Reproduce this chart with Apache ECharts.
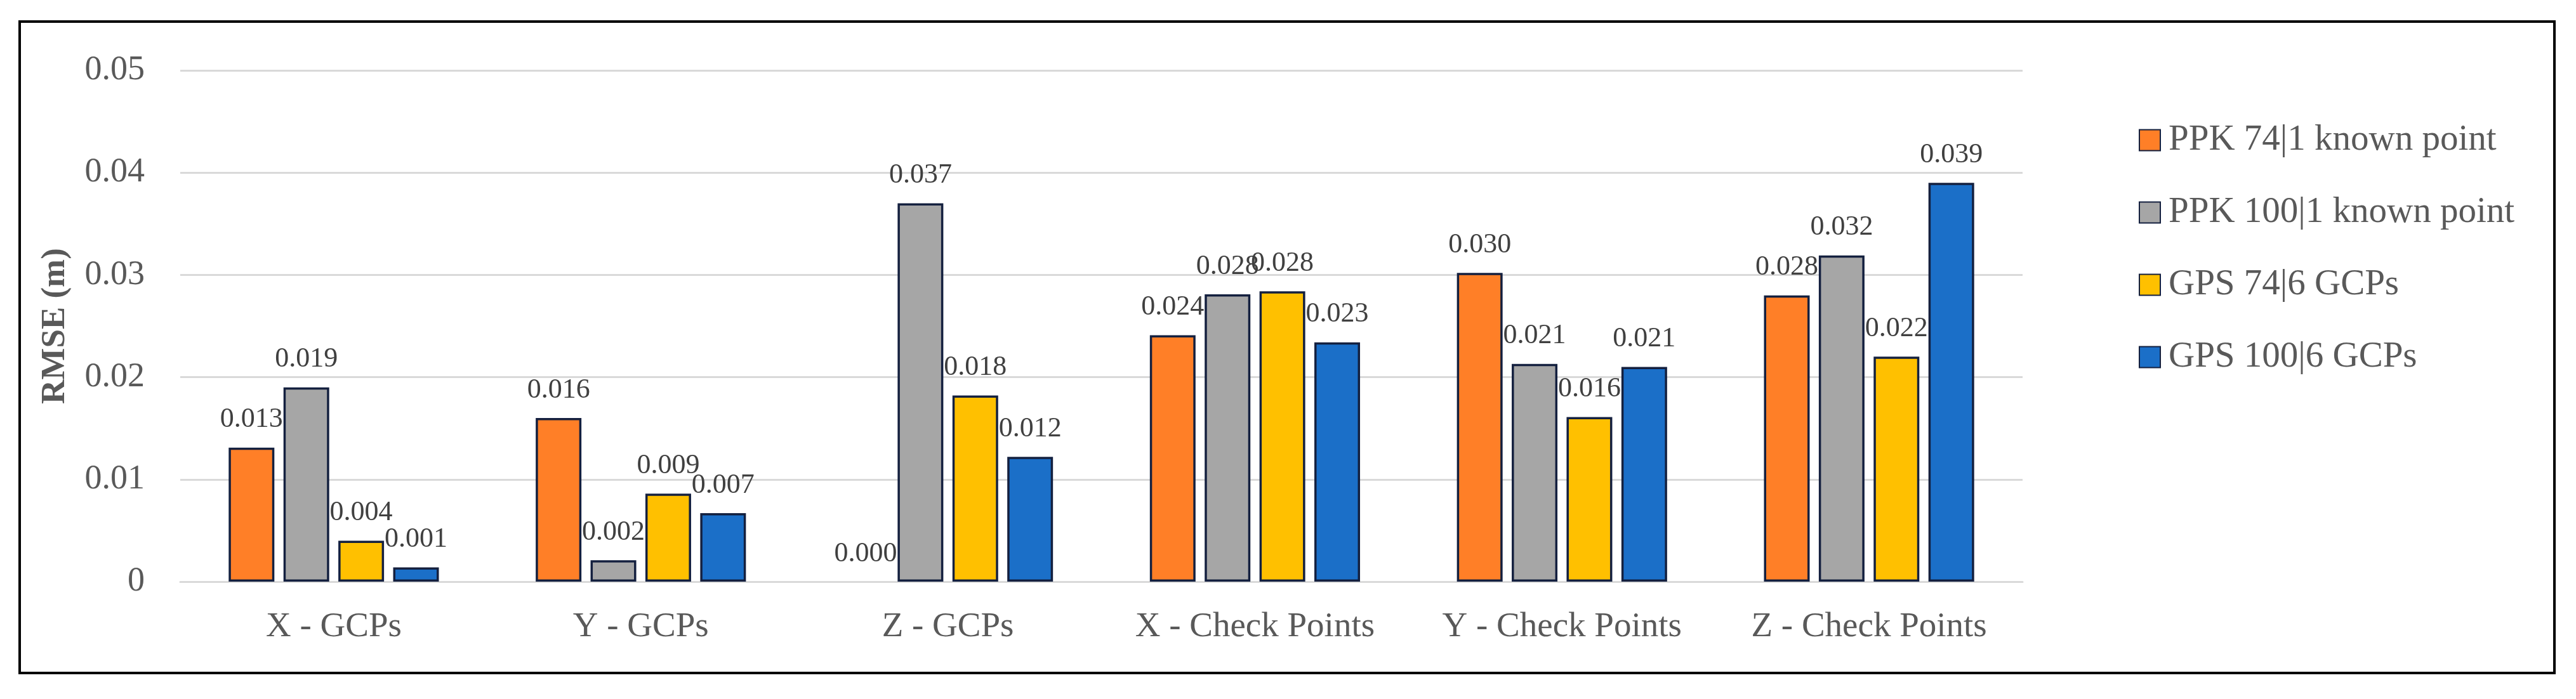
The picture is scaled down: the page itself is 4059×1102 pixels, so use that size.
<!DOCTYPE html>
<html>
<head>
<meta charset="utf-8">
<script src="https://cdn.jsdelivr.net/npm/echarts@6/dist/echarts.min.js"></script>
<style>
html,body{margin:0;padding:0;background:#fff;}
#chart{width:4059px;height:1102px;}
</style>
</head>
<body>
<div id="chart"></div>
<script>
const categories = ['X - GCPs', 'Y - GCPs', 'Z - GCPs', 'X - Check Points', 'Y - Check Points', 'Z - Check Points'];
const seriesNames = ['PPK 74|1 known point', 'PPK 100|1 known point', 'GPS 74|6 GCPs', 'GPS 100|6 GCPs'];
const ppk74 = [0.0131, 0.0160, 0.0000, 0.0241, 0.0302, 0.0280];
const ppk100 = [0.0190, 0.0021, 0.0370, 0.0281, 0.0213, 0.0319];
const gps74 = [0.0040, 0.0086, 0.0182, 0.0284, 0.0161, 0.0220];
const gps100 = [0.0014, 0.0067, 0.0122, 0.0234, 0.0210, 0.0390];
const yTicks = [0, 0.01, 0.02, 0.03, 0.04, 0.05];

const colors = ['#FF7F27', '#A6A6A6', '#FFC000', '#1B6FC8'];
const FONT = '"Liberation Serif", "Times New Roman", serif';
const allData = [ppk74, ppk100, gps74, gps100];

const chart = echarts.init(document.getElementById('chart'), null, {renderer: 'canvas'});
chart.setOption({
  backgroundColor: '#ffffff',
  animation: false,
  textStyle: {fontFamily: FONT},
  graphic: [{
    type: 'rect',
    shape: {x: 31, y: 34, width: 3994, height: 1027},
    style: {fill: 'none', stroke: '#000000', lineWidth: 4},
    z: 100
  }],
  grid: {left: 284, right: 872, top: 111, bottom: 185, containLabel: false},
  legend: {
    orient: 'vertical',
    left: 3365,
    top: 187,
    itemWidth: 33,
    itemHeight: 33,
    itemGap: 56,
    icon: 'rect',
    textStyle: {fontFamily: FONT, fontSize: 57, color: '#595959', lineHeight: 58, padding: [0, 0, 0, 8]},
    data: seriesNames
  },
  xAxis: {
    type: 'category',
    data: categories,
    axisTick: {show: false},
    axisLine: {show: true, lineStyle: {color: '#D9D9D9', width: 3}},
    axisLabel: {fontFamily: FONT, fontSize: 55, color: '#595959', margin: 44, interval: 0},
    splitLine: {show: false}
  },
  yAxis: {
    type: 'value',
    min: 0,
    max: 0.05,
    interval: 0.01,
    name: 'RMSE (m)',
    nameLocation: 'middle',
    nameGap: 170,
    nameRotate: 90,
    nameTextStyle: {fontFamily: FONT, fontSize: 53, fontWeight: 'bold', color: '#595959'},
    axisLine: {show: false},
    axisTick: {show: false},
    axisLabel: {
      fontFamily: FONT, fontSize: 54, color: '#595959', margin: 56,
      formatter: function (v) {
        const idx = yTicks.findIndex(t => Math.abs(t - v) < 1e-9);
        return idx >= 0 ? String(yTicks[idx]) : '';
      }
    },
    splitLine: {show: true, lineStyle: {color: '#D9D9D9', width: 3}}
  },
  series: seriesNames.map((name, i) => ({
    name: name,
    type: 'bar',
    data: allData[i].map(v => v === 0 ? {value: v, itemStyle: {borderWidth: 0}} : v),
    barWidth: 72,
    barGap: '20%',
    itemStyle: {color: colors[i], borderColor: '#14203F', borderWidth: 3.5},
    label: {
      show: true,
      position: 'top',
      distance: 22,
      fontFamily: FONT,
      fontSize: 44,
      color: '#404040',
      formatter: function (p) { return p.value.toFixed(3); }
    }
  }))
});
</script>
</body>
</html>
